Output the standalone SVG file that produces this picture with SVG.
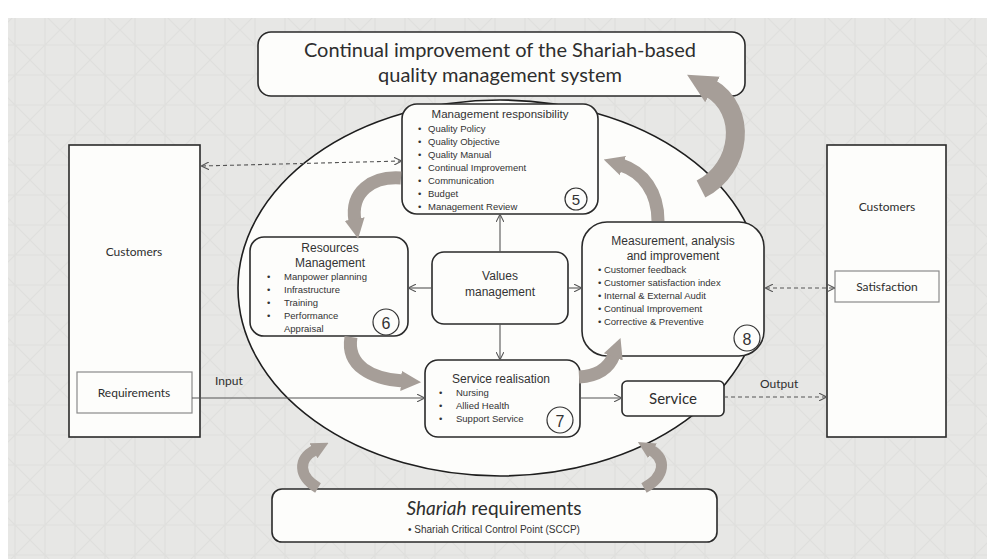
<svg xmlns="http://www.w3.org/2000/svg" width="987" height="559" viewBox="0 0 987 559">
<style>
.bg{fill:#e7e7e5}
.box{fill:#fdfdfb;stroke:#2a2a2a;stroke-width:1.6}
.thin{fill:#fdfdfb;stroke:#8a8a8a;stroke-width:1.2}
.cal{font-family:Lato,"Open Sans","Liberation Sans",sans-serif;fill:#2e2e2e}
.ar{font-family:"Liberation Sans",Arial,sans-serif;fill:#333}
.li{font-size:9.5px}
.con{stroke:#555;stroke-width:1.1;fill:none}
.dash{stroke-dasharray:4 3}
.g{stroke:#a69e98;fill:none}
.num{fill:#fdfdfb;stroke:#333;stroke-width:1.2}
</style>
<defs>
<marker id="ah" viewBox="0 0 10 10" refX="9" refY="5" markerWidth="8" markerHeight="8" markerUnits="userSpaceOnUse" orient="auto-start-reverse">
<path d="M0,0 L10,5 L0,10" fill="none" stroke="#555" stroke-width="1.3"/>
</marker>
<marker id="gh" viewBox="0 0 10 10" refX="1" refY="5" markerWidth="1.55" markerHeight="1.7" orient="auto">
<path d="M0,0 L10,5 L0,10 z" fill="#a69e98"/>
</marker>
<pattern id="pat" width="60" height="60" patternUnits="userSpaceOnUse">
<path d="M0,30 L30,0 L60,30 L30,60 Z M15,0 V60 M45,0 V60 M0,15 H60 M0,45 H60" fill="none" stroke="#d9d9d7" stroke-width="1.2"/>
</pattern>
</defs>
<rect width="987" height="559" fill="#ffffff"/>
<rect class="bg" x="8" y="18" width="979" height="541"/>
<rect x="8" y="18" width="979" height="541" fill="url(#pat)" opacity="0.55"/>

<ellipse cx="500" cy="288" rx="262" ry="188" fill="#fdfdfb" stroke="#1e1e1e" stroke-width="1.6"/>

<g id="top">
<rect class="box" x="258" y="32" width="487" height="64" rx="13"/>
<text class="cal" x="500" y="57" font-size="20" text-anchor="middle">Continual improvement of the Shariah-based</text>
<text class="cal" x="500" y="82" font-size="20" text-anchor="middle">quality management system</text>
</g>

<g id="mgmt">
<rect class="box" x="402" y="104" width="196" height="110" rx="15"/>
<text class="ar" x="500" y="118" font-size="11.5" text-anchor="middle">Management responsibility</text>
<g class="ar li">
<text x="418" y="132">•</text><text x="428" y="132">Quality Policy</text>
<text x="418" y="145">•</text><text x="428" y="145">Quality Objective</text>
<text x="418" y="158">•</text><text x="428" y="158">Quality Manual</text>
<text x="418" y="171">•</text><text x="428" y="171">Continual Improvement</text>
<text x="418" y="184">•</text><text x="428" y="184">Communication</text>
<text x="418" y="197">•</text><text x="428" y="197">Budget</text>
<text x="418" y="210">•</text><text x="428" y="210">Management Review</text>
</g>
<circle class="num" cx="576" cy="199" r="11"/>
<text class="ar" x="576" y="205" font-size="15" text-anchor="middle">5</text>
</g>

<g id="resources">
<rect class="box" x="250" y="237" width="158" height="99" rx="14"/>
<text class="ar" x="330" y="252" font-size="12" text-anchor="middle">Resources</text>
<text class="ar" x="330" y="267" font-size="12" text-anchor="middle">Management</text>
<g class="ar li">
<text x="267" y="280">•</text><text x="284" y="280">Manpower planning</text>
<text x="267" y="293">•</text><text x="284" y="293">Infrastructure</text>
<text x="267" y="306">•</text><text x="284" y="306">Training</text>
<text x="267" y="319">•</text><text x="284" y="319">Performance</text>
<text x="284" y="332">Appraisal</text>
</g>
<circle class="num" cx="386" cy="322" r="13"/>
<text class="ar" x="386" y="329" font-size="16" text-anchor="middle">6</text>
</g>

<g id="values">
<rect class="box" x="432" y="252" width="136" height="72" rx="12"/>
<text class="ar" x="500" y="280" font-size="12" text-anchor="middle">Values</text>
<text class="ar" x="500" y="296" font-size="12" text-anchor="middle">management</text>
</g>

<g id="measurement">
<rect class="box" x="582" y="222" width="182" height="134" rx="25"/>
<text class="ar" x="673" y="245" font-size="12" text-anchor="middle">Measurement, analysis</text>
<text class="ar" x="673" y="260" font-size="12" text-anchor="middle">and improvement</text>
<g class="ar li">
<text x="598" y="273">• Customer feedback</text>
<text x="598" y="286">• Customer satisfaction  index</text>
<text x="598" y="299">• Internal &amp; External Audit</text>
<text x="598" y="312">• Continual Improvement</text>
<text x="598" y="325">• Corrective &amp; Preventive</text>
</g>
<circle class="num" cx="747" cy="338" r="13"/>
<text class="ar" x="747" y="345" font-size="16" text-anchor="middle">8</text>
</g>

<g id="service-realisation">
<rect class="box" x="425" y="360" width="155" height="77" rx="13"/>
<text class="ar" x="501" y="383" font-size="12" text-anchor="middle">Service realisation</text>
<g class="ar li">
<text x="439" y="396">•</text><text x="456" y="396">Nursing</text>
<text x="439" y="409">•</text><text x="456" y="409">Allied Health</text>
<text x="439" y="422">•</text><text x="456" y="422">Support Service</text>
</g>
<circle class="num" cx="560" cy="420" r="13"/>
<text class="ar" x="560" y="427" font-size="16" text-anchor="middle">7</text>
</g>

<g id="service">
<rect class="box" x="622" y="381" width="102" height="35" rx="5"/>
<text class="cal" x="673" y="404" font-size="15" text-anchor="middle">Service</text>
</g>

<g id="customers-left">
<rect class="box" x="69" y="145" width="131" height="292"/>
<text class="cal" x="134" y="256" font-size="12" text-anchor="middle">Customers</text>
<rect class="thin" x="77" y="372" width="115" height="41"/>
<text class="cal" x="134" y="397" font-size="12" text-anchor="middle">Requirements</text>
</g>

<g id="customers-right">
<rect class="box" x="827" y="145" width="119" height="292"/>
<text class="cal" x="887" y="211" font-size="12" text-anchor="middle">Customers</text>
<rect class="thin" x="835" y="271" width="104" height="31"/>
<text class="cal" x="887" y="291" font-size="12" text-anchor="middle">Satisfaction</text>
</g>

<g id="shariah">
<rect class="box" x="272" y="489" width="445" height="53" rx="10"/>
<text class="cal" x="494" y="515" font-size="19" text-anchor="middle"><tspan font-style="italic">Shariah</tspan> requirements</text>
<text class="ar" x="494" y="533" font-size="10" text-anchor="middle">•    Shariah Critical Control Point (SCCP)</text>
</g>

<g id="connectors">
<line class="con dash" x1="202" y1="166" x2="401" y2="161" marker-start="url(#ah)" marker-end="url(#ah)"/>
<line class="con dash" x1="766" y1="288" x2="834" y2="288" marker-start="url(#ah)" marker-end="url(#ah)"/>
<line class="con" x1="192" y1="398" x2="424" y2="398" marker-end="url(#ah)"/>
<text class="cal" x="215" y="385" font-size="12">Input</text>
<line class="con" x1="580" y1="398" x2="621" y2="398" marker-end="url(#ah)"/>
<line class="con dash" x1="724" y1="397" x2="826" y2="397" marker-end="url(#ah)"/>
<text class="cal" x="760" y="388" font-size="12">Output</text>
<line class="con" x1="500" y1="252" x2="500" y2="215" marker-end="url(#ah)"/>
<line class="con" x1="432" y1="288" x2="409" y2="288" marker-end="url(#ah)"/>
<line class="con" x1="568" y1="288" x2="581" y2="288" marker-end="url(#ah)"/>
<line class="con" x1="500" y1="324" x2="500" y2="359" marker-end="url(#ah)"/>
<path class="g" stroke-width="13" d="M401,178 C372,176 350,192 355,221" marker-end="url(#gh)"/>
<path class="g" stroke-width="13" d="M351,337 C346,366 372,379 403,381" marker-end="url(#gh)"/>
<path class="g" stroke-width="13" d="M579,377 C598,376 609,368 614,355" marker-end="url(#gh)"/>
<path class="g" stroke-width="13" d="M658,221 C658,192 643,172 621,165" marker-end="url(#gh)"/>
<path class="g" stroke-width="19" d="M701,189 C742,168 748,110 710,88" marker-end="url(#gh)"/>
<path class="g" stroke-width="11" d="M318,488 C298,476 298,459 315,450" marker-end="url(#gh)"/>
<path class="g" stroke-width="11" d="M644,488 C666,476 666,459 651,450" marker-end="url(#gh)"/>
</g>
</svg>
